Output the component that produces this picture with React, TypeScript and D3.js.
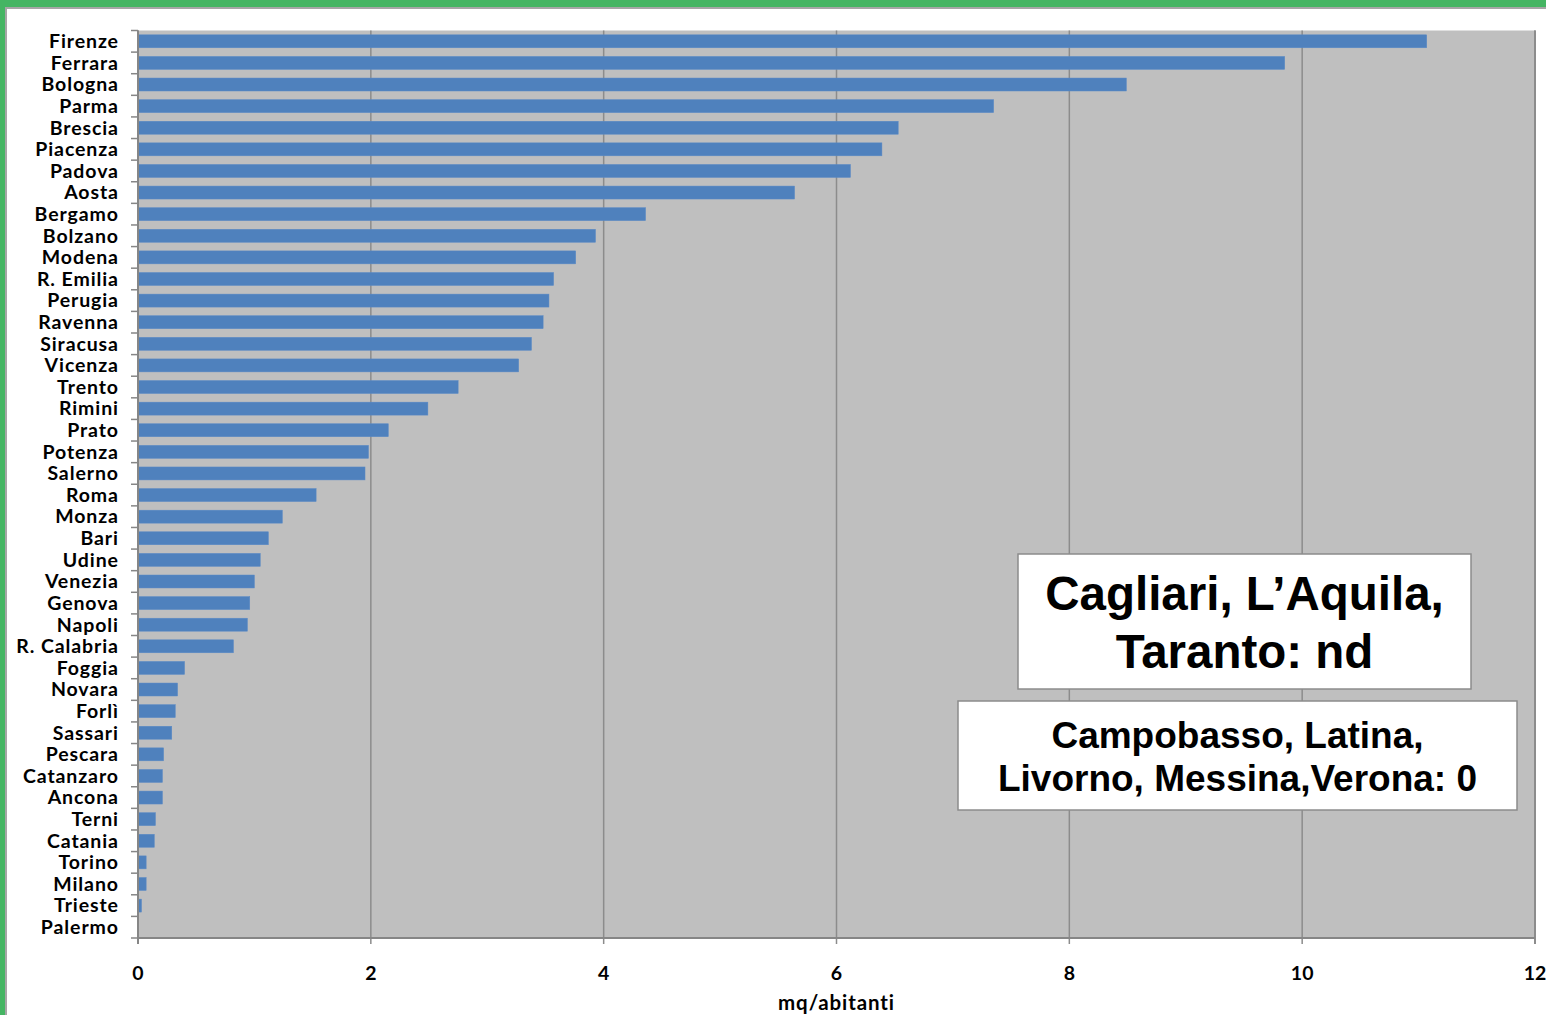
import React from "react";
import * as d3 from "d3";

const categories = [
  "Firenze", "Ferrara", "Bologna", "Parma", "Brescia", "Piacenza", "Padova", "Aosta",
  "Bergamo", "Bolzano", "Modena", "R. Emilia", "Perugia", "Ravenna", "Siracusa", "Vicenza",
  "Trento", "Rimini", "Prato", "Potenza", "Salerno", "Roma", "Monza", "Bari", "Udine",
  "Venezia", "Genova", "Napoli", "R. Calabria", "Foggia", "Novara", "Forlì", "Sassari",
  "Pescara", "Catanzaro", "Ancona", "Terni", "Catania", "Torino", "Milano", "Trieste", "Palermo",
];
const values = [
  11.07, 9.85, 8.49, 7.35, 6.53, 6.39, 6.12, 5.64,
  4.36, 3.93, 3.76, 3.57, 3.53, 3.48, 3.38, 3.27,
  2.75, 2.49, 2.15, 1.98, 1.95, 1.53, 1.24, 1.12, 1.05,
  1.0, 0.96, 0.94, 0.82, 0.4, 0.34, 0.32, 0.29,
  0.22, 0.21, 0.21, 0.15, 0.14, 0.07, 0.07, 0.03, 0,
];
const xTicks = [0, 2, 4, 6, 8, 10, 12];
const xTitle = "mq/abitanti";
const note1 = ["Cagliari, L\u2019Aquila,", "Taranto: nd"];
const note2 = ["Campobasso, Latina,", "Livorno, Messina,Verona: 0"];

const W = 1546, H = 1015;
const L = 138, R = 1535, T = 30.5, B = 938;

export default function App() {
  const x = d3.scaleLinear().domain([0, 12]).range([L, R]);
  const y = d3.scaleBand<string>().domain(categories).range([T, B]).paddingInner(0.4).paddingOuter(0.2);
  const step = (B - T) / categories.length;
  const labelFont = "Lato, 'Open Sans', sans-serif";
  const arial = "'Liberation Sans', Arial, sans-serif";
  const ls = 0.9;
  return (
    <svg width={W} height={H} style={{ position: "absolute", left: 0, top: 0, background: "#fff" }}>
      <rect x={0} y={0} width={W} height={H} fill="#fff" />
      {/* frame */}
      <rect x={0} y={0} width={W} height={7} fill="#45B563" />
      <rect x={0} y={0} width={5} height={H} fill="#45B563" />
      <line x1={5} x2={W} y1={8} y2={8} stroke="#A6A6A6" strokeWidth={2} />
      <line x1={6} x2={6} y1={8} y2={H} stroke="#A6A6A6" strokeWidth={2} />
      {/* plot area */}
      <rect x={L} y={T} width={R - L} height={B - T} fill="#BFBFBF" />
      {xTicks.map((t) => (
        <line key={"g" + t} x1={x(t)} x2={x(t)} y1={T} y2={B + 6} stroke="#8C8C8C" strokeWidth={1.5} />
      ))}
      <line x1={R} x2={R} y1={T} y2={B + 6} stroke="#8C8C8C" strokeWidth={2} />
      {/* bars */}
      {categories.map((c, i) => (
        <rect key={c} x={x(0)} y={y(c)!} width={x(values[i]) - x(0)} height={y.bandwidth()} fill="#4F81BD" stroke="#5A8AC6" strokeWidth={0.5} />
      ))}
      {/* axes */}
      <line x1={L} x2={R} y1={B} y2={B} stroke="#868686" strokeWidth={2} />
      <line x1={L} x2={L} y1={T} y2={B + 6} stroke="#868686" strokeWidth={2} />
      {d3.range(categories.length + 1).map((i) => (
        <line key={"yt" + i} x1={L - 7} x2={L} y1={T + i * step} y2={T + i * step} stroke="#868686" strokeWidth={1.5} />
      ))}
      {categories.map((c) => (
        <text key={"l" + c} x={118 + ls} y={y(c)! + y.bandwidth() / 2} dy="0.35em" textAnchor="end"
          fontFamily={labelFont} fontWeight={700} fontSize={19.5} letterSpacing={ls} fill="#000">{c}</text>
      ))}
      {xTicks.map((t) => (
        <text key={"xl" + t} x={x(t)} y={980} textAnchor="middle" fontFamily={labelFont} fontWeight={700} fontSize={19.5} fill="#000">{t}</text>
      ))}
      <text x={(L + R) / 2} y={1010} textAnchor="middle" fontFamily={labelFont} fontWeight={700} fontSize={20.5} letterSpacing={ls} fill="#000">{xTitle}</text>
      {/* notes */}
      <rect x={1018} y={554} width={453} height={135} fill="#fff" stroke="#8C8C8C" strokeWidth={1.5} />
      {note1.map((s, i) => (
        <text key={"n1" + i} x={1244.5} y={610 + i * 58} textAnchor="middle" fontFamily={arial} fontWeight={700} fontSize={47.5} fill="#000">{s}</text>
      ))}
      <rect x={958} y={701} width={559} height={109} fill="#fff" stroke="#8C8C8C" strokeWidth={1.5} />
      {note2.map((s, i) => (
        <text key={"n2" + i} x={1237.5} y={748 + i * 43} textAnchor="middle" fontFamily={arial} fontWeight={700} fontSize={37} fill="#000">{s}</text>
      ))}
    </svg>
  );
}
